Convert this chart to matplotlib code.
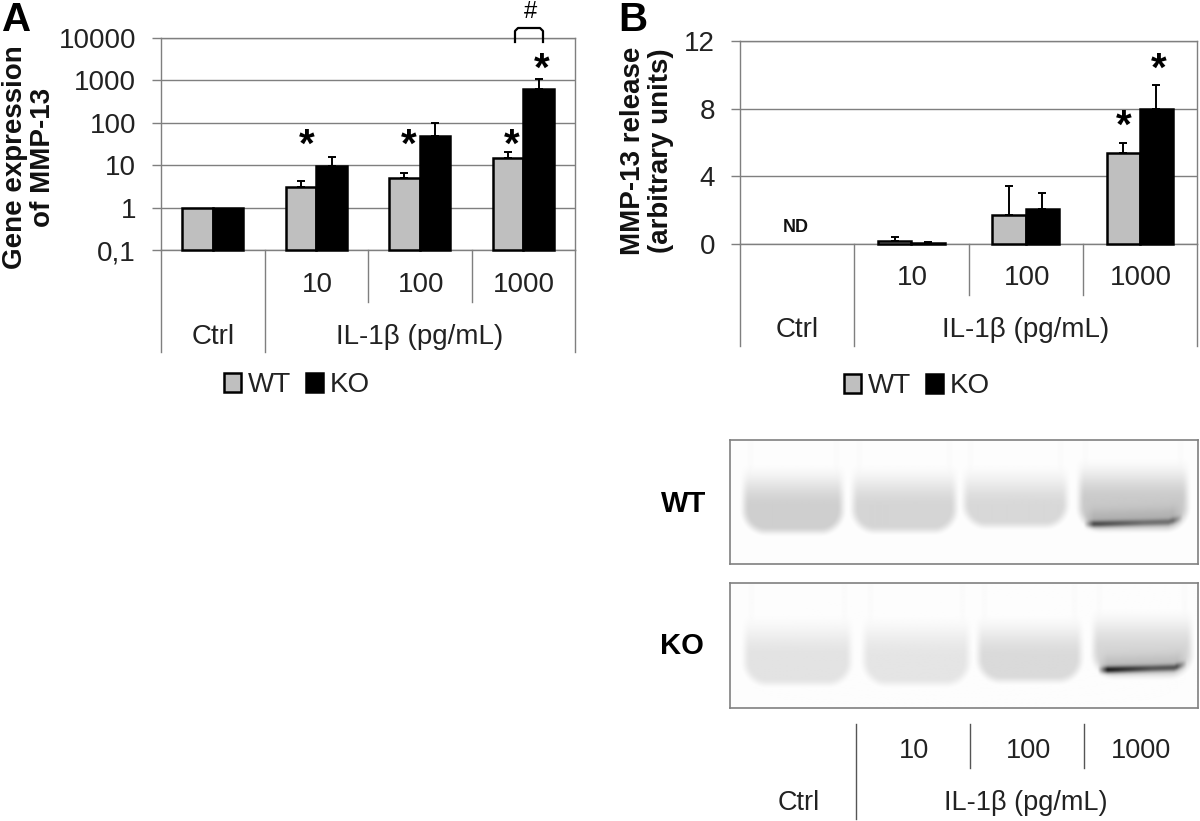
import numpy as np
import matplotlib
matplotlib.use("Agg")
import matplotlib.pyplot as plt
from matplotlib.lines import Line2D

plt.rcParams['font.family'] = ['Liberation Sans', 'DejaVu Sans']

W, H = 1200, 821

# --- data ---
series = ['WT', 'KO']
doses = ['10', '100', '1000']
group_labels = ['Ctrl', 'IL-1β (pg/mL)']

a_ticks = [0.1, 1, 10, 100, 1000, 10000]
a_ticklabels = ['0,1', '1', '10', '100', '1000', '10000']
a_wt = [1, 3, 5, 15]
a_ko = [1, 9.5, 50, 630]
a_wt_top = [1, 4.2, 6.5, 21]
a_ko_top = [1, 16, 100, 1100]

b_ticks = [0, 4, 8, 12]
b_wt = [0, 0.2, 1.7, 5.4]
b_ko = [0, 0.05, 2.05, 8.0]
b_wt_top = [0, 0.4, 3.4, 6.0]
b_ko_top = [0, 0.1, 3.0, 9.4]

# blot lanes: x0, x1, top, bottom, grey level, dark band level (None = no band), band y
wt_lanes = [(744, 842, 462, 532, 207, None, 0),
            (853, 955, 462, 531, 213, None, 0),
            (964, 1066, 462, 526, 216, None, 0),
            (1079, 1186, 456, 529, 202, 90, 523)]
ko_lanes = [(745, 850, 612, 684, 227, None, 0),
            (864, 968, 612, 684, 229, None, 0),
            (978, 1080, 612, 681, 218, None, 0),
            (1093, 1190, 606, 676, 214, 40, 669)]

GRID = '#7f7f7f'
GREY = '#bfbfbf'
FS = 20


def fx(x):
    return x / W


def fy(y):
    return 1 - y / H


def ftext(x, y, s, **kw):
    kw.setdefault('ha', 'center')
    kw.setdefault('va', 'center')
    return fig.text(fx(x), fy(y), s, **kw)


def fline(xs, ys, color=GRID, lw=1.0, **kw):
    fig.add_artist(Line2D([fx(x) for x in xs], [fy(y) for y in ys], color=color, lw=lw, **kw))


def bar_panel(box, wt, ko, wt_top, ko_top, ticks, labels, log, bw):
    x0, x1, y0, y1 = box
    ax = fig.add_axes([fx(x0), fy(y1), (x1 - x0) / W, (y1 - y0) / H])
    ax.set_facecolor('none')
    pos = np.arange(4)
    wt = np.array(wt, float)
    ko = np.array(ko, float)
    base = 0.1 if log else 0
    if log:
        ax.set_yscale('log')
    ax.set_xlim(-0.5, 3.5)
    ax.set_ylim(ticks[0], ticks[-1])
    bars = []
    for off, vals, tops, col in ((-bw / 2, wt, wt_top, GREY), (bw / 2, ko, ko_top, 'black')):
        keep = vals > 0
        b = ax.bar(pos[keep] + off, vals[keep] - base, bw, bottom=base, color=col, edgecolor='black',
                   linewidth=1.8, zorder=3, clip_on=False)
        bars.append(b)
        err = np.array(tops, float) - vals
        show = keep & (err > 0)
        ax.errorbar(pos[show] + off, vals[show], yerr=[np.zeros(show.sum()), err[show]], fmt='none',
                    ecolor='black', elinewidth=1.4, capsize=3.2, capthick=1.4, zorder=2)
    ax.set_yticks(ticks)
    ax.set_yticklabels(labels)
    ax.minorticks_off()
    ax.set_xticks([])
    ax.tick_params(axis='y', length=6.5, width=1, color=GRID, labelsize=FS, pad=11.5, labelcolor='#222222')
    ax.grid(axis='y', color=GRID, lw=1)
    ax.set_axisbelow(True)
    for s in ('top', 'bottom', 'left', 'right'):
        ax.spines[s].set_color(GRID)
        ax.spines[s].set_linewidth(1)
    return ax, bars


def sep_labels(box, mid, bottom, label_y1, label_y2):
    x0, x1, y0, y1 = box
    cat = (x1 - x0) / 4
    fline([x0, x0], [y1, bottom])
    fline([x1, x1], [y1, bottom])
    fline([x0 + cat, x0 + cat], [y1, bottom])
    for i in (2, 3):
        fline([x0 + i * cat] * 2, [y1, mid])
    for i, d in enumerate(doses):
        ftext(x0 + (i + 1.5) * cat + 1, label_y1, d, fontsize=FS, color='#222222')
    ftext(x0 + 0.5 * cat, label_y2, group_labels[0], fontsize=FS, color='#222222')
    ftext(x0 + 2.5 * cat, label_y2, group_labels[1], fontsize=FS, color='#222222')


def star(x, y):
    ftext(x, y, '*', fontsize=29, fontweight='bold', color='black', va='center')


def render_blot(lanes, x0, x1, y0, y1):
    xs = np.arange(x0, x1) + 0.5
    ys = np.arange(y0, y1) + 0.5
    X, Y = np.meshgrid(xs, ys)
    img = np.full(X.shape, 253.0)
    for lx0, lx1, top, bot, grey, band, band_y in lanes:
        cx, hx = (lx0 + lx1) / 2, (lx1 - lx0) / 2
        # rounded box, soft edges, fading out towards the well
        r = 22
        qx = np.abs(X - cx) - (hx - r)
        qy = Y - (bot - r)
        d = np.hypot(np.maximum(qx, 0), np.maximum(qy, 0)) + np.minimum(np.maximum(qx, qy), 0) - r
        mask = np.clip(0.5 - d / 11, 0, 1)
        mask = mask * mask * (3 - 2 * mask)
        fade = np.clip((Y - top) / 45, 0, 1)
        fade = fade * fade * (3 - 2 * fade)
        img -= (253 - grey) * mask * fade
        # faint well walls
        for wx in (lx0 + 6, lx1 - 6):
            wall = np.exp(-((X - wx) / 2.5) ** 2) * np.clip((top + 14 - Y) / 14, 0, 1)
            img -= 3 * wall
        if band is not None:
            t = (X - cx) / hx
            by = band_y - 1.5 * t - 5 * np.clip(t - 0.65, 0, 1) / 0.35
            edge = np.clip((hx - 4 - np.abs(X - cx)) / 10, 0, 1)
            left = 1 - 0.35 * np.clip(t + 0.8, 0, 1)
            g = np.exp(-((Y - by) / 3.4) ** 2) * edge * left
            above = np.exp(-((Y - by + 6) / 9.0) ** 2) * edge
            img -= (grey - band) * g + 22 * above
    return np.clip(img, 0, 255)


def blot(lanes, x0, x1, y0, y1):
    ax = fig.add_axes([fx(x0), fy(y1), (x1 - x0) / W, (y1 - y0) / H])
    ax.imshow(render_blot(lanes, x0, x1, y0, y1), cmap='gray', vmin=0, vmax=255, aspect='auto',
              interpolation='bilinear')
    ax.set_xticks([])
    ax.set_yticks([])
    for s in ax.spines.values():
        s.set_color('#808080')
        s.set_linewidth(1.2)


fig = plt.figure(figsize=(W / 100, H / 100), dpi=100, facecolor='white')

# --- panel A ---
box_a = (161, 575, 38, 250)
ax_a, bars_a = bar_panel(box_a, a_wt, a_ko, a_wt_top, a_ko_top, a_ticks, a_ticklabels, True, 0.295)
sep_labels(box_a, 302, 352, 285, 337)
ftext(17, 20, 'A', fontsize=29, fontweight='bold', color='black')
ftext(29, 157, 'Gene expression\nof MMP-13', fontsize=FS, fontweight='bold', rotation=90,
      linespacing=1.1, color='#111111')
for x, y in [(307, 146), (409, 146), (512, 146), (542, 70)]:
    star(x, y)
fline([515, 515, 518, 540, 543, 543], [42, 31, 28, 28, 31, 42], color='black', lw=1.6)
ftext(531, 12, '#', fontsize=17, color='black')
fig.legend([bars_a[0][0], bars_a[1][0]], series, loc='center', bbox_to_anchor=(fx(297), fy(385)), ncol=2,
           frameon=False, fontsize=FS, handlelength=0.6, handleheight=0.65, handletextpad=0.25,
           columnspacing=0.55, labelcolor='#222222', borderpad=0, borderaxespad=0)

# --- panel B ---
box_b = (740, 1197, 41, 244)
ax_b, bars_b = bar_panel(box_b, b_wt, b_ko, b_wt_top, b_ko_top, b_ticks, [str(t) for t in b_ticks], False, 0.29)
sep_labels(box_b, 295, 346, 278, 330)
ftext(633, 20, 'B', fontsize=29, fontweight='bold', color='black')
ftext(647, 151, 'MMP-13 release\n(arbitrary units)', fontsize=FS, fontweight='bold', rotation=90,
      linespacing=1.1, color='#111111')
ftext(796, 227, 'ND', fontsize=13, fontweight='bold', color='#111111')
for x, y in [(1124, 127), (1159, 70)]:
    star(x, y)
fig.legend([bars_b[0][0], bars_b[1][0]], series, loc='center', bbox_to_anchor=(fx(917), fy(386)), ncol=2,
           frameon=False, fontsize=FS, handlelength=0.6, handleheight=0.65, handletextpad=0.25,
           columnspacing=0.55, labelcolor='#222222', borderpad=0, borderaxespad=0)

# --- blots ---
blot(wt_lanes, 730, 1198, 440, 564)
blot(ko_lanes, 730, 1198, 583, 708)
ftext(684, 504, 'WT', fontsize=21, fontweight='bold', color='black')
ftext(682, 646, 'KO', fontsize=21, fontweight='bold', color='black')

for x, y_end in [(856, 819), (970, 768), (1084, 768)]:
    fline([x, x], [724, y_end], color='#555555')
for x, d in zip([914, 1028, 1141], doses):
    ftext(x, 751, d, fontsize=19.5, color='#222222')
ftext(799, 803, group_labels[0], fontsize=19.5, color='#222222')
ftext(1026, 803, group_labels[1], fontsize=19.5, color='#222222')

fig.savefig('out.png', dpi=100, facecolor='white')
